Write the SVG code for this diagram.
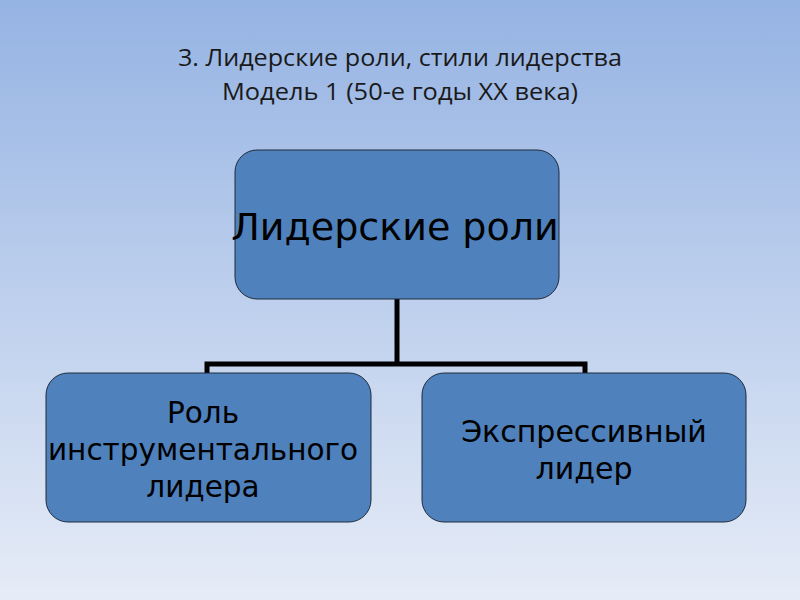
<svg xmlns="http://www.w3.org/2000/svg" width="800" height="600" viewBox="0 0 800 600">
<defs>
<linearGradient id="bg" x1="0" y1="0" x2="0" y2="1">
<stop offset="0" stop-color="#95b3e3"/>
<stop offset="1" stop-color="#e6ecf7"/>
</linearGradient>
</defs>
<style>
.title{font-family:"Open Sans","Liberation Sans",sans-serif;font-size:24px;fill:#1a1a1a;text-anchor:middle}
.box{fill:#4f81bd;stroke:#1f2a3a;stroke-width:1}
.lbl{font-family:"DejaVu Sans",sans-serif;fill:#000;text-anchor:middle}
.conn{fill:none;stroke:#000;stroke-width:5}
</style>
<rect width="800" height="600" fill="url(#bg)"/>
<g id="title">
<text class="title" x="400" y="66" textLength="444" lengthAdjust="spacingAndGlyphs">3. Лидерские роли, стили лидерства</text>
<text class="title" x="400" y="100" textLength="356" lengthAdjust="spacingAndGlyphs">Модель 1 (50-е годы XX века)</text>
</g>
<g id="connectors">
<path class="conn" d="M397 299 V364 M207 373 V364 H585 V373"/>
</g>
<g id="root">
<rect class="box" x="235" y="150" width="324" height="149" rx="22"/>
<text class="lbl" x="395" y="240" font-size="38">Лидерские роли</text>
</g>
<g id="left">
<rect class="box" x="46" y="373" width="325" height="149" rx="22"/>
<text class="lbl" x="203" y="423" font-size="29.5">Роль</text>
<text class="lbl" x="203" y="460" font-size="29.5">инструментального</text>
<text class="lbl" x="203" y="497" font-size="29.5">лидера</text>
</g>
<g id="right">
<rect class="box" x="422" y="373" width="324" height="149" rx="22"/>
<text class="lbl" x="584" y="442" font-size="30">Экспрессивный</text>
<text class="lbl" x="584" y="479" font-size="30">лидер</text>
</g>
</svg>
